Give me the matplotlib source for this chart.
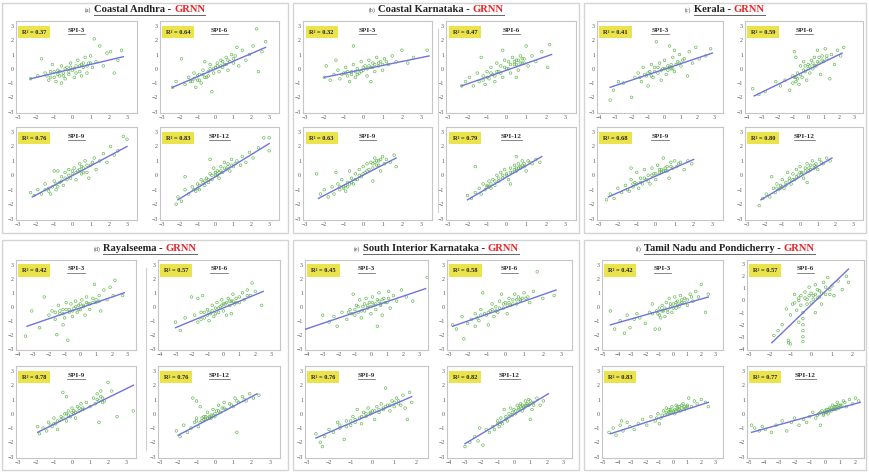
import matplotlib
matplotlib.use("Agg")
import matplotlib.pyplot as plt
from matplotlib.lines import Line2D
from matplotlib.patches import Rectangle

plt.rcParams["font.family"] = ["Liberation Serif", "DejaVu Serif"]

W, H = 869, 472

REGIONS = ["Coastal Andhra", "Coastal Karnataka", "Kerala",
           "Rayalseema", "South Interior Karnataka", "Tamil Nadu and Pondicherry"]
TAGS = ["(a)", "(b)", "(c)", "(d)", "(e)", "(f)"]
MODEL = "GRNN"
SPI_TITLES = [
    ["SPI-3", "SPI-6", "SPI-9", "SPI-12"],
    ["SPI-3", "SPI-6", "SPI-9", "SPI-12"],
    ["SPI-3", "SPI-6", "SPI-9", "SPI-12"],
    ["SPI-3", "SPI-6", "SPI-9", "SPI-12"],
    ["SPI-3", "SPI-6", "SPI-9", "SPI-12"],
    ["SPI-3", "SPI-6", "", "SPI-12"],
]
R2 = [
    [0.37, 0.64, 0.76, 0.83],
    [0.32, 0.47, 0.63, 0.79],
    [0.41, 0.59, 0.68, 0.80],
    [0.42, 0.57, 0.78, 0.76],
    [0.45, 0.58, 0.76, 0.82],
    [0.42, 0.57, 0.83, 0.77],
]
# regression line end points per subplot: (x0, y0, x1, y1)
FIT = [
    [(-2.3, -0.7, 2.8, 0.85), (-2.4, -1.3, 2.8, 1.5), (-2.2, -1.5, 3.0, 2.0), (-2.1, -1.7, 3.0, 2.2)],
    [(-2.0, -0.6, 3.4, 0.9), (-2.3, -1.2, 2.3, 1.0), (-2.3, -1.6, 1.7, 1.2), (-2.0, -1.7, 1.8, 1.3)],
    [(-3.3, -1.3, 2.9, 1.1), (-3.5, -1.9, 2.2, 1.1), (-2.5, -1.5, 2.0, 1.1), (-2.2, -1.7, 1.8, 1.2)],
    [(-3.4, -1.4, 2.8, 1.0), (-3.0, -1.5, 2.5, 1.1), (-1.9, -1.3, 3.4, 2.0), (-2.0, -1.5, 2.3, 1.4)],
    [(-4.3, -1.7, 3.4, 1.3), (-2.8, -1.4, 2.7, 1.2), (-2.6, -1.7, 1.8, 1.2), (-3.0, -2.1, 2.1, 1.4)],
    [(-4.5, -1.3, 2.5, 0.7), (-1.9, -3.5, 1.8, 2.6), (-4.5, -1.4, 2.5, 0.8), (-4.8, -1.3, 2.3, 0.8)],
]
# x tick range (first, last) per subplot
XT = [
    [(-3, 3), (-3, 3), (-3, 3), (-3, 3)],
    [(-3, 3), (-3, 3), (-3, 3), (-3, 3)],
    [(-4, 3), (-4, 3), (-3, 3), (-3, 3)],
    [(-4, 3), (-4, 3), (-3, 3), (-3, 3)],
    [(-4, 3), (-3, 3), (-3, 2), (-4, 3)],
    [(-5, 3), (-3, 2), (-5, 3), (-5, 2)],
]
# y tick range (first, last) per subplot
YT = [
    [(-3, 3)] * 4,
    [(-3, 3)] * 4,
    [(-3, 3)] * 4,
    [(-3, 3)] * 4,
    [(-3, 3)] * 4,
    [(-3, 3), (-4, 3), (-3, 3), (-3, 3)],
]

# observed vs predicted SPI values
andhra_spi3 = [(-2.3, -0.7), (-1.9, -0.5), (-1.7, 0.7), (-1.5, -0.3), (-1.3, -0.8), (-1.2, -0.2), (-1.1, 0.3), (-1.0, -0.6), (-0.9, -0.9), (-0.8, -0.1), (-0.7, -0.5), (-0.6, 0.2), (-0.5, -0.3), (-0.4, -0.7), (-0.3, 0.1), (-0.2, -0.4), (-0.1, 0.4), (0.0, -0.1), (0.1, -0.6), (0.2, 0.2), (0.3, 0.6), (0.4, -0.2), (0.5, 0.3), (0.6, 0.1), (0.7, 0.8), (0.8, -0.3), (0.9, 0.4), (1.0, 0.9), (1.1, 0.1), (1.2, 2.1), (1.3, 0.5), (1.5, 1.6), (1.7, 0.2), (1.9, 1.1), (2.1, 1.2), (2.3, -0.3), (2.5, 0.6), (2.7, 1.3), (-0.6, -1.0), (0.5, -0.5),
               (-1.4, -0.5), (-1.2, -0.6), (-1.0, -0.2), (-0.8, -0.4), (-0.7, -0.2), (-0.5, -0.5), (-0.4, 0.0), (-0.2, -0.2), (-0.1, 0.1), (0.1, 0.0), (0.2, -0.3), (0.4, 0.2), (0.6, 0.4), (0.8, 0.2), (1.0, 0.4)]
andhra_spi6 = [(-2.4, -1.3), (-2.2, -0.9), (-1.9, 0.7), (-1.7, -1.1), (-1.5, -0.6), (-1.3, -0.9), (-1.2, -0.3), (-1.0, -0.8), (-0.9, -0.4), (-0.8, -1.0), (-0.7, -0.1), (-0.5, -0.6), (-0.4, -0.2), (-0.3, 0.3), (-0.2, -1.6), (-0.1, -0.3), (0.0, 0.1), (0.1, 0.4), (0.2, -0.2), (0.3, 0.6), (0.4, 0.1), (0.5, 0.3), (0.6, 0.8), (0.7, -0.1), (0.8, 0.5), (0.9, 1.0), (1.0, 0.4), (1.1, 0.9), (1.3, 0.2), (1.5, 1.3), (1.7, 0.6), (1.9, 1.0), (2.1, 1.6), (2.3, 2.8), (2.4, -0.2), (2.6, 1.2), (2.8, 1.9), (-0.6, 0.5), (1.2, 1.5), (-1.1, -1.3),
               (-1.4, -0.9), (-1.2, -0.7), (-1.0, -0.5), (-0.9, -0.8), (-0.7, -0.4), (-0.6, -0.6), (-0.4, -0.5), (-0.3, 0.0), (-0.1, 0.0), (0.1, 0.2), (0.3, 0.2), (0.4, 0.5), (0.6, 0.3), (0.7, 0.6), (1.0, 0.7)]
andhra_spi9 = [(-2.3, -1.2), (-2.1, -1.4), (-1.9, -1.0), (-1.7, -1.3), (-1.5, -0.6), (-1.3, -0.9), (-1.2, -1.3), (-1.0, -0.4), (-0.9, -1.0), (-0.8, 0.3), (-0.7, -0.5), (-0.6, -0.1), (-0.5, -0.7), (-0.4, 0.2), (-0.3, -0.3), (-0.2, 0.4), (-0.1, -0.2), (0.0, 0.1), (0.1, 0.5), (0.2, -0.3), (0.3, 0.3), (0.4, 0.8), (0.5, 0.1), (0.6, 0.5), (0.7, 1.0), (0.8, 0.2), (1.0, 0.7), (1.2, 1.2), (1.3, 0.4), (1.5, 1.0), (1.7, 1.5), (1.9, 0.9), (2.1, 2.0), (2.3, 1.4), (2.5, 1.7), (2.8, 2.7), (3.0, 2.5), (-1.0, 0.3), (0.9, -0.2),
               (-1.5, -1.0), (-1.3, -1.1), (-1.1, -0.8), (-0.9, -0.6), (-0.8, -0.8), (-0.6, -0.4), (-0.4, -0.2), (-0.2, 0.0), (0.0, 0.3), (0.2, 0.2), (0.4, 0.4), (0.5, 0.6), (0.6, 0.2), (0.8, 0.7), (1.1, 0.9)]
andhra_spi12 = [(-2.2, -2.0), (-2.1, -1.5), (-1.9, -1.8), (-1.7, -1.0), (-1.5, -1.3), (-1.3, -0.8), (-1.1, -1.1), (-1.0, -0.6), (-0.9, -1.0), (-0.8, -0.3), (-0.6, -0.7), (-0.5, -0.2), (-0.4, -0.5), (-0.3, 0.1), (-0.2, -0.3), (-0.1, 0.5), (0.0, 0.0), (0.1, 0.3), (0.2, -0.2), (0.3, 0.6), (0.4, 0.2), (0.5, 0.9), (0.6, 0.4), (0.7, 0.8), (0.8, 0.3), (0.9, 1.1), (1.0, 0.6), (1.2, 1.0), (1.4, 0.7), (1.5, 1.3), (1.7, 0.9), (1.9, 1.6), (2.1, 1.2), (2.4, 1.9), (2.7, 2.6), (3.0, 2.6), (3.0, 1.7), (-1.7, -0.1), (-0.3, 1.1),
                (-1.2, -1.0), (-1.0, -0.9), (-0.9, -0.7), (-0.7, -0.5), (-0.6, -0.4), (-0.4, -0.3), (-0.2, 0.0), (0.0, 0.2), (0.1, 0.0), (0.2, 0.2), (0.3, 0.3), (0.5, 0.5), (0.7, 0.6), (0.9, 0.7), (1.1, 0.8)]

karnataka_spi3 = [(-2.0, -0.6), (-1.9, 0.2), (-1.7, -0.8), (-1.5, -0.4), (-1.3, -0.1), (-1.2, -0.7), (-1.0, -0.3), (-0.9, 0.1), (-0.8, -0.5), (-0.7, -0.9), (-0.6, -0.2), (-0.5, 0.3), (-0.4, -0.6), (-0.3, 0.0), (-0.2, -0.3), (-0.1, 0.5), (0.0, -0.1), (0.1, 0.2), (0.2, -0.5), (0.3, 0.6), (0.4, 0.1), (0.5, 0.4), (0.6, -0.2), (0.7, 0.8), (0.8, 0.2), (0.9, 0.5), (1.0, -0.1), (1.1, 0.7), (1.3, 0.3), (1.5, 0.9), (1.7, 0.5), (2.0, 1.3), (2.3, 0.4), (2.6, 0.8), (3.3, 1.3), (-0.5, 1.6), (0.4, -0.9), (-1.4, 0.6),
                  (-1.1, -0.4), (-0.9, -0.3), (-0.8, -0.2), (-0.6, -0.4), (-0.4, -0.2), (-0.3, -0.4), (-0.1, -0.2), (0.0, 0.1), (0.2, 0.0), (0.3, 0.2), (0.5, 0.1), (0.6, 0.3), (0.8, 0.4), (1.0, 0.3), (1.2, 0.5)]
karnataka_spi6 = [(-2.3, -1.2), (-2.1, -0.9), (-1.9, -0.6), (-1.7, -1.2), (-1.5, -0.3), (-1.4, -0.9), (-1.3, 0.8), (-1.2, -0.5), (-1.1, -1.1), (-1.0, -0.2), (-0.9, -0.7), (-0.8, 0.1), (-0.7, -0.4), (-0.6, -0.9), (-0.5, 0.4), (-0.4, -0.2), (-0.3, 0.2), (-0.2, -0.6), (-0.1, 0.6), (0.0, 0.0), (0.1, 0.5), (0.2, -0.3), (0.3, 0.8), (0.4, 0.3), (0.5, 0.6), (0.6, -0.1), (0.7, 0.9), (0.8, 0.4), (0.9, 0.7), (1.0, 1.6), (1.1, 0.2), (1.3, 0.9), (1.5, 0.5), (1.8, 1.2), (2.1, 0.1), (2.2, 1.7), (-0.2, 1.3), (0.5, -0.6),
                  (-1.2, -0.8), (-1.0, -0.6), (-0.8, -0.3), (-0.6, -0.5), (-0.5, -0.2), (-0.3, -0.3), (-0.1, 0.1), (0.1, 0.0), (0.2, 0.3), (0.4, 0.5), (0.5, 0.3), (0.6, 0.6), (0.7, 0.4), (0.8, 0.7), (0.9, 0.4)]
karnataka_spi9 = [(-2.4, 0.1), (-2.2, -1.3), (-2.0, -1.0), (-1.8, -1.5), (-1.6, -0.8), (-1.5, -1.3), (-1.3, -0.6), (-1.2, -1.0), (-1.1, -0.3), (-1.0, -0.8), (-0.9, -1.1), (-0.8, -0.5), (-0.7, 0.3), (-0.6, -0.2), (-0.5, -0.6), (-0.4, 0.1), (-0.3, -0.3), (-0.2, 0.4), (-0.1, -0.1), (0.0, 0.6), (0.1, 0.2), (0.2, 0.8), (0.3, 0.4), (0.4, 0.9), (0.5, 0.5), (0.6, 1.2), (0.7, 0.7), (0.8, 1.0), (0.9, 0.3), (1.0, 1.3), (1.1, 0.8), (1.2, 1.1), (1.4, 0.9), (1.6, 1.4), (1.7, 0.6), (-1.4, 0.2), (0.5, -0.4),
                  (-1.2, -0.8), (-1.0, -0.9), (-0.9, -0.7), (-0.8, -0.8), (-0.7, -0.6), (-0.6, -0.5), (-0.4, -0.3), (-0.2, 0.0), (0.0, 0.1), (0.2, 0.3), (0.5, 0.8), (0.6, 0.9), (0.7, 1.0), (0.8, 0.7), (0.9, 1.1)]
karnataka_spi12 = [(-2.0, -1.4), (-1.8, -1.6), (-1.6, -1.2), (-1.4, -0.9), (-1.3, -1.3), (-1.2, -0.6), (-1.1, -1.0), (-1.0, -0.8), (-0.9, -0.4), (-0.8, -0.9), (-0.7, -0.3), (-0.6, -0.7), (-0.5, 0.0), (-0.4, -0.4), (-0.3, 0.2), (-0.2, -0.2), (-0.1, 0.4), (0.0, 0.1), (0.1, -0.3), (0.2, 0.5), (0.3, 0.2), (0.4, 0.7), (0.5, 0.3), (0.6, 0.8), (0.7, 0.5), (0.8, 1.0), (0.9, 0.6), (1.0, 0.3), (1.1, 1.0), (1.3, 0.8), (1.5, 1.1), (1.7, 0.9), (-1.6, 0.6), (0.5, 1.3), (0.2, -0.6),
                   (-1.0, -0.7), (-0.9, -0.8), (-0.8, -0.6), (-0.6, -0.4), (-0.4, -0.2), (-0.2, 0.0), (0.0, 0.0), (0.2, 0.2), (0.4, 0.4), (0.5, 0.5), (0.6, 0.5), (0.7, 0.6), (0.8, 0.7), (0.9, 0.8), (1.2, 0.9)]

kerala_spi3 = [(-3.3, -2.2), (-3.1, -1.5), (-2.8, -0.9), (-2.5, -1.0), (-2.0, -2.0), (-1.8, -0.6), (-1.6, -0.3), (-1.4, -0.9), (-1.3, 0.1), (-1.1, -0.5), (-1.0, -1.2), (-0.9, -0.2), (-0.8, 0.3), (-0.7, -0.6), (-0.6, 0.1), (-0.5, 1.9), (-0.4, -0.3), (-0.3, 0.4), (-0.2, -0.8), (-0.1, 0.0), (0.0, 0.6), (0.1, -0.4), (0.2, 0.2), (0.3, 1.6), (0.4, 0.0), (0.5, 0.8), (0.6, -0.2), (0.8, 0.5), (0.9, 1.0), (1.0, 0.2), (1.2, 0.7), (1.4, -0.5), (1.5, 1.2), (1.7, 0.4), (1.9, 1.5), (2.1, 0.7), (2.5, 0.9), (2.8, 1.4), (0.6, 1.3),
               (-1.5, -0.6), (-1.2, -0.4), (-1.0, -0.3), (-0.8, -0.5), (-0.6, -0.2), (-0.4, 0.1), (-0.2, -0.1), (0.0, 0.0), (0.2, -0.1), (0.3, 0.1), (0.4, 0.3), (0.5, 0.0), (0.7, 0.3), (0.9, 0.4), (1.1, 0.6)]
kerala_spi6 = [(-3.6, -1.4), (-3.2, -1.8), (-2.8, -1.6), (-2.1, -0.9), (-1.5, -0.8), (-1.2, -1.5), (-1.0, -0.5), (-0.9, 1.2), (-0.8, -0.9), (-0.7, -0.3), (-0.6, -1.1), (-0.5, 0.2), (-0.4, -0.6), (-0.3, 0.5), (-0.2, -0.2), (-0.1, -0.8), (0.0, 0.3), (0.1, -0.3), (0.2, 0.6), (0.3, 0.0), (0.4, 0.8), (0.5, 0.2), (0.6, 1.3), (0.7, 0.4), (0.8, -0.4), (0.9, 0.9), (1.0, 0.5), (1.1, 1.4), (1.2, 0.7), (1.4, -0.7), (1.5, 1.0), (1.7, 0.3), (1.9, 1.3), (2.1, 0.9), (2.3, 1.5), (-0.8, 0.8), (-1.8, -1.2),
               (-1.0, -1.0), (-0.9, -0.6), (-0.8, -0.6), (-0.7, -0.7), (-0.5, -0.4), (-0.3, -0.1), (-0.2, 0.2), (0.0, 0.0), (0.1, 0.2), (0.3, 0.4), (0.4, 0.2), (0.6, 0.5), (0.7, 0.8), (0.9, 0.6), (1.2, 0.9)]
kerala_spi9 = [(-2.6, -1.7), (-2.4, -1.3), (-2.2, -1.6), (-2.0, -0.9), (-1.8, -1.2), (-1.6, -0.7), (-1.4, -1.1), (-1.3, -0.3), (-1.2, -0.8), (-1.1, -0.5), (-1.0, 0.2), (-0.9, -0.9), (-0.8, -0.2), (-0.7, -0.6), (-0.6, 0.4), (-0.5, -0.3), (-0.4, 0.0), (-0.3, -0.6), (-0.2, 0.5), (-0.1, 0.1), (0.0, -0.3), (0.1, 0.7), (0.2, 0.2), (0.3, 0.4), (0.4, 1.2), (0.5, 0.3), (0.6, 0.6), (0.7, -0.2), (0.8, 0.9), (0.9, 0.5), (1.0, 1.0), (1.1, 0.6), (1.3, 0.9), (1.5, 0.4), (1.7, 1.0), (1.9, 0.8), (-1.3, 0.5),
               (-1.5, -1.0), (-1.2, -0.6), (-1.0, -0.6), (-0.8, -0.5), (-0.6, -0.2), (-0.4, -0.4), (-0.2, 0.0), (0.0, 0.1), (0.2, 0.4), (0.3, 0.2), (0.4, 0.3), (0.5, 0.5), (0.6, 0.3), (0.8, 0.6), (1.2, 0.8)]
kerala_spi12 = [(-2.3, -2.1), (-2.1, -1.6), (-1.9, -1.3), (-1.7, -1.5), (-1.5, -0.9), (-1.4, -1.2), (-1.3, -0.6), (-1.2, -1.0), (-1.1, -0.7), (-1.0, -0.3), (-0.9, -0.9), (-0.8, -0.5), (-0.7, 0.2), (-0.6, -0.2), (-0.5, -0.6), (-0.4, 0.1), (-0.3, -0.3), (-0.2, 0.4), (-0.1, 0.0), (0.0, 0.6), (0.1, 0.2), (0.2, -0.2), (0.3, 0.5), (0.4, 0.8), (0.5, 0.3), (0.6, 0.7), (0.7, 1.0), (0.8, 0.5), (0.9, 0.8), (1.0, 0.4), (1.1, 1.1), (1.3, 0.8), (1.5, 1.2), (1.7, 1.0), (-1.6, -0.1), (0.4, -0.5),
                (-1.3, -0.9), (-1.1, -0.9), (-1.0, -0.8), (-0.8, -0.7), (-0.6, -0.4), (-0.4, -0.3), (-0.2, -0.1), (0.0, 0.2), (0.1, 0.1), (0.3, 0.3), (0.5, 0.5), (0.6, 0.4), (0.8, 0.7), (0.9, 0.6), (1.2, 0.9)]

rayalseema_spi3 = [(-3.5, -2.1), (-3.1, -0.3), (-2.6, -1.5), (-2.3, 0.7), (-2.0, -0.6), (-1.8, -0.3), (-1.6, -0.9), (-1.5, -2.0), (-1.4, 0.1), (-1.3, -0.5), (-1.1, -0.2), (-1.0, -0.8), (-0.9, 0.3), (-0.8, -2.4), (-0.7, -0.4), (-0.6, 0.2), (-0.5, -0.7), (-0.4, -0.1), (-0.3, 0.4), (-0.2, -0.4), (-0.1, 0.1), (0.0, -0.2), (0.1, 0.5), (0.2, 0.0), (0.3, -0.6), (0.4, 0.7), (0.5, 0.2), (0.6, -0.2), (0.8, 0.6), (0.9, 1.6), (1.0, 0.3), (1.2, 0.8), (1.3, -0.3), (1.5, 1.2), (1.7, 0.5), (1.9, 1.4), (2.1, 0.8), (2.2, 1.9), (2.7, 0.8), (-1.1, -1.3),
                   (-1.6, -0.4), (-1.3, -0.3), (-1.1, -0.5), (-0.9, -0.2), (-0.7, -0.2), (-0.5, -0.3), (-0.3, 0.0), (-0.1, -0.2), (0.0, 0.2), (0.2, 0.1), (0.4, 0.3), (0.6, 0.2), (0.8, 0.3), (1.0, 0.5), (1.2, 0.4)]
rayalseema_spi6 = [(-3.0, -1.1), (-2.7, -1.7), (-2.4, -0.8), (-2.0, 0.7), (-1.8, -0.6), (-1.6, -1.1), (-1.4, -0.4), (-1.3, 0.8), (-1.2, -0.8), (-1.0, -0.2), (-0.9, -1.0), (-0.8, -0.5), (-0.7, 0.1), (-0.6, -0.7), (-0.5, -0.1), (-0.4, 0.3), (-0.3, -0.4), (-0.2, 0.0), (-0.1, 0.5), (0.0, -0.3), (0.1, 0.2), (0.2, -0.6), (0.3, 0.6), (0.4, 0.1), (0.5, 0.4), (0.6, 0.9), (0.7, 0.2), (0.8, 0.6), (1.0, 0.3), (1.2, 1.0), (1.3, 0.5), (1.5, 1.2), (1.7, 0.8), (1.8, 1.7), (2.0, 1.1), (2.4, 0.1), (-1.6, 0.6), (0.5, -0.5),
                   (-1.4, -0.9), (-1.2, -0.4), (-1.0, -0.6), (-0.9, -0.4), (-0.7, -0.3), (-0.5, -0.5), (-0.3, -0.1), (-0.1, 0.1), (0.0, 0.2), (0.2, 0.3), (0.4, 0.4), (0.6, 0.4), (0.8, 0.3), (1.0, 0.7), (1.5, 0.8)]
rayalseema_spi9 = [(-1.9, -0.9), (-1.8, -1.4), (-1.6, -1.0), (-1.4, -1.2), (-1.3, -0.6), (-1.1, -0.9), (-1.0, -0.3), (-0.9, -0.7), (-0.8, -1.1), (-0.6, -0.4), (-0.5, 1.5), (-0.4, 0.0), (-0.3, -0.5), (-0.2, 0.2), (-0.1, -0.2), (0.0, 0.4), (0.1, 0.0), (0.2, -0.3), (0.3, 0.5), (0.4, 0.2), (0.5, 0.7), (0.6, 0.3), (0.8, 0.8), (1.0, 0.5), (1.2, 1.1), (1.3, 0.7), (1.4, 1.4), (1.5, 0.9), (1.6, 1.6), (1.7, 1.1), (1.8, 0.9), (2.0, 2.2), (2.2, 1.6), (2.5, -0.2), (3.4, 0.2), (-0.3, 1.2), (1.5, -0.6),
                   (-1.2, -0.8), (-1.0, -0.7), (-0.8, -0.5), (-0.6, -0.2), (-0.5, -0.3), (-0.3, 0.0), (-0.2, -0.1), (0.0, 0.1), (0.1, 0.2), (0.2, 0.1), (0.4, 0.4), (0.6, 0.4), (1.4, 1.0), (1.6, 1.2), (1.7, 0.8)]
rayalseema_spi12 = [(-2.1, -1.2), (-1.9, -1.6), (-1.7, -0.8), (-1.5, -1.3), (-1.3, -1.0), (-1.2, 1.1), (-1.1, -0.6), (-1.0, -0.3), (-0.9, -0.9), (-0.8, 0.5), (-0.7, -0.5), (-0.6, -0.2), (-0.5, -0.4), (-0.4, 0.1), (-0.3, -0.3), (-0.2, -0.1), (-0.1, 0.3), (0.0, -0.2), (0.1, 0.2), (0.2, 0.6), (0.3, 0.1), (0.4, 0.4), (0.5, 0.8), (0.6, 0.3), (0.8, 0.7), (1.0, 0.5), (1.1, 1.1), (1.2, -1.3), (1.3, 0.8), (1.5, 1.2), (1.7, 0.9), (1.9, 1.4), (2.1, 1.1), (2.4, 1.3), (-1.0, 0.9),
                    (-1.0, -0.5), (-0.8, -0.6), (-0.7, -0.3), (-0.6, -0.4), (-0.5, -0.2), (-0.4, -0.3), (-0.3, -0.2), (-0.2, -0.3), (-0.1, -0.1), (0.0, 0.0), (0.2, 0.2), (0.5, 0.4), (0.9, 0.6), (1.2, 0.9), (1.6, 1.0)]

interior_spi3 = [(-4.3, -2.9), (-3.0, -0.6), (-2.6, -1.1), (-2.3, -0.7), (-2.1, -1.4), (-1.8, -0.4), (-1.5, -0.9), (-1.3, -0.2), (-1.1, 0.9), (-1.0, -0.6), (-0.9, 0.1), (-0.8, -0.4), (-0.7, 0.5), (-0.6, -0.8), (-0.5, 0.0), (-0.4, -0.3), (-0.3, 0.6), (-0.2, -0.1), (-0.1, 0.3), (0.0, -0.5), (0.1, 0.7), (0.2, 0.1), (0.3, -0.2), (0.4, 0.5), (0.5, 1.0), (0.6, 0.2), (0.7, -0.6), (0.8, 0.6), (1.0, 0.3), (1.1, 1.1), (1.2, -0.1), (1.4, 0.8), (1.6, 0.4), (1.9, 1.2), (2.2, 0.7), (2.6, 0.4), (3.5, 2.1), (0.4, -1.4),
                 (-1.4, -0.4), (-1.2, -0.5), (-1.0, -0.2), (-0.8, 0.0), (-0.6, -0.3), (-0.4, 0.2), (-0.2, 0.1), (0.0, 0.0), (0.1, 0.3), (0.3, 0.2), (0.5, 0.4), (0.6, 0.1), (0.7, 0.5), (0.9, 0.3), (1.1, 0.6)]
interior_spi6 = [(-2.8, -1.3), (-2.6, -1.6), (-2.3, -0.7), (-2.2, -2.3), (-2.0, -1.2), (-1.8, -0.9), (-1.6, -0.5), (-1.4, -1.0), (-1.3, -0.2), (-1.2, 1.0), (-1.0, -0.6), (-0.9, -1.3), (-0.8, -0.3), (-0.7, 0.2), (-0.6, -0.7), (-0.5, 0.0), (-0.4, -0.4), (-0.3, 0.4), (-0.2, 0.9), (-0.1, -0.1), (0.0, 0.3), (0.1, -0.5), (0.2, 0.6), (0.3, 0.1), (0.4, 0.5), (0.5, 0.9), (0.6, 0.2), (0.7, 0.7), (0.8, 0.4), (1.0, 1.0), (1.1, 0.6), (1.3, 0.3), (1.5, 1.1), (1.7, 2.5), (2.0, 0.6), (2.6, 0.8), (-1.6, -1.4),
                 (-1.5, -0.8), (-1.3, -0.6), (-1.1, -0.5), (-0.9, -0.4), (-0.7, -0.2), (-0.5, -0.3), (-0.3, -0.1), (-0.1, 0.2), (0.1, 0.1), (0.2, 0.3), (0.4, 0.2), (0.6, 0.5), (0.8, 0.5), (0.9, 0.6), (1.2, 0.7)]
interior_spi9 = [(-2.6, -1.4), (-2.4, -2.0), (-2.2, -1.6), (-2.3, -2.3), (-2.0, -1.1), (-1.8, -1.3), (-1.6, -0.6), (-1.5, -1.0), (-1.3, -1.8), (-1.2, -0.5), (-1.0, -0.8), (-0.9, -0.2), (-0.8, -0.6), (-0.7, 0.3), (-0.6, -0.3), (-0.5, -0.7), (-0.4, 0.1), (-0.3, -0.2), (-0.2, 0.4), (-0.1, 0.0), (0.0, 0.2), (0.1, -0.4), (0.2, 0.5), (0.3, 0.1), (0.4, 0.7), (0.5, 0.3), (0.6, 1.8), (0.7, 0.6), (0.8, 0.2), (0.9, 0.9), (1.0, 0.5), (1.1, 1.1), (1.2, 0.7), (1.4, 1.3), (1.5, 0.4), (1.7, 1.5), (1.8, 0.8), (1.6, -0.4),
                 (-1.5, -0.8), (-1.2, -0.9), (-1.0, -0.5), (-0.8, -0.4), (-0.5, -0.2), (-0.3, 0.0), (-0.1, 0.1), (0.1, 0.2), (0.3, 0.3), (0.5, 0.4), (0.6, 0.5), (0.8, 0.6), (1.0, 0.8), (1.2, 0.9), (1.3, 0.6)]
interior_spi12 = [(-3.0, -2.3), (-2.7, -2.0), (-2.4, -1.6), (-2.2, -1.9), (-2.1, -1.0), (-1.9, -2.2), (-1.7, -1.1), (-1.5, -1.3), (-1.3, -0.9), (-1.2, -1.1), (-1.0, -0.5), (-0.9, -0.9), (-0.8, -0.3), (-0.7, -0.7), (-0.6, 0.3), (-0.5, -0.2), (-0.4, -0.5), (-0.3, 0.0), (-0.2, 0.4), (-0.1, -0.1), (0.0, 0.3), (0.1, 0.0), (0.2, 0.6), (0.3, 0.3), (0.4, 0.7), (0.5, 0.2), (0.6, 0.5), (0.7, 0.9), (0.8, 0.6), (0.9, 1.0), (1.0, 0.7), (1.1, 0.3), (1.2, 0.8), (1.4, 1.1), (1.6, 0.6), (1.8, 0.9), (1.0, -0.4),
                  (-1.0, -0.7), (-0.8, -0.6), (-0.5, -0.4), (-0.3, -0.2), (-0.1, 0.1), (0.1, 0.2), (0.3, 0.4), (0.4, 0.5), (0.5, 0.6), (0.6, 0.4), (0.7, 0.6), (0.8, 0.7), (0.9, 0.6), (1.0, 0.9), (1.2, 0.6)]

tamil_spi3 = [(-4.5, -0.3), (-4.2, -1.6), (-3.8, -1.0), (-3.5, -1.9), (-3.3, -0.6), (-3.1, -1.5), (-2.8, -0.9), (-2.6, -0.5), (-2.4, -0.8), (-2.0, -1.2), (-1.7, -0.4), (-1.5, 0.2), (-1.3, -1.6), (-1.1, -0.5), (-1.0, -0.1), (-0.9, -0.8), (-0.8, 0.1), (-0.7, -0.3), (-0.6, -0.7), (-0.5, 0.3), (-0.4, -0.2), (-0.3, 0.6), (-0.2, 0.0), (-0.1, -0.4), (0.0, 0.2), (0.1, 0.7), (0.2, -0.1), (0.3, 0.4), (0.4, 0.0), (0.5, 0.8), (0.6, 0.3), (0.8, 0.6), (1.0, 0.1), (1.2, 0.9), (1.4, 0.4), (1.6, 1.1), (1.8, 0.7), (2.0, 1.6), (2.3, -0.4), (2.5, 0.9), (-1.0, -1.6),
              (-1.5, -0.5), (-1.2, -0.3), (-1.0, -0.6), (-0.8, -0.3), (-0.6, -0.1), (-0.4, -0.4), (-0.2, 0.2), (0.0, -0.1), (0.2, 0.3), (0.3, 0.1), (0.5, 0.2), (0.6, 0.5), (0.8, 0.3), (1.0, 0.5), (1.3, 0.7)]
tamil_spi6 = [(-1.8, -2.9), (-1.6, -2.5), (-1.4, -2.0), (-1.2, -0.7), (-1.1, -3.3), (-1.0, -1.2), (-0.9, -0.3), (-0.8, 0.5), (-0.7, -0.8), (-0.6, 0.2), (-0.5, -0.4), (-0.4, -1.5), (-0.4, -2.0), (-0.4, -2.5), (-0.4, -3.0), (-0.4, -3.4), (-0.4, -1.0), (-0.3, 0.7), (-0.2, 0.1), (-0.1, 1.1), (0.0, -0.2), (0.1, 0.4), (0.2, 1.3), (0.3, 0.2), (0.4, 0.8), (0.5, -0.3), (0.6, 1.5), (0.7, 0.5), (0.8, 1.9), (0.9, 0.9), (1.0, 1.2), (1.1, 0.4), (1.3, 1.6), (1.5, 0.9), (1.7, 2.0), (1.8, 1.5), (-0.6, -1.8), (0.2, -1.0), (-1.1, -3.5),
              (-0.8, -0.2), (-0.6, 0.0), (-0.5, 0.4), (-0.3, 0.2), (-0.2, -0.3), (-0.1, 0.4), (0.0, 0.6), (0.1, 0.1), (0.2, 0.5), (0.3, 0.9), (0.4, 0.3), (0.5, 0.6), (0.7, 1.1), (0.9, 0.5), (-1.0, -3.6)]
tamil_spi9 = [(-4.6, -1.3), (-4.3, -1.0), (-4.1, -1.5), (-3.8, -0.8), (-3.6, -1.2), (-3.3, -0.6), (-3.1, -0.9), (-2.8, -1.1), (-2.5, -0.7), (-2.2, -0.4), (-1.9, -0.8), (-1.6, -0.2), (-1.3, -0.5), (-1.1, 0.0), (-1.0, -0.7), (-0.9, -0.3), (-0.7, 0.2), (-0.6, -0.1), (-0.5, 0.4), (-0.4, 0.0), (-0.3, 0.3), (-0.2, 0.1), (-0.1, 0.5), (0.0, 0.2), (0.1, 0.0), (0.2, 0.6), (0.3, 0.3), (0.4, 0.5), (0.6, 0.4), (0.7, 0.7), (0.8, 0.3), (1.0, 0.6), (1.1, 1.1), (1.3, 0.5), (1.5, 0.9), (1.7, 0.7), (2.0, 1.0), (2.3, 0.8), (2.5, 0.5), (-3.7, -0.5),
              (-1.2, -0.3), (-0.8, -0.1), (-0.5, 0.1), (-0.3, 0.1), (-0.2, 0.3), (0.0, 0.1), (0.1, 0.3), (0.2, 0.2), (0.3, 0.5), (0.4, 0.3), (0.5, 0.2), (0.6, 0.6), (0.8, 0.5), (0.9, 0.4), (1.0, 0.5)]
tamil_spi12 = [(-4.8, -0.8), (-4.6, -1.0), (-4.3, -1.2), (-4.1, -0.9), (-3.9, -1.1), (-3.5, -1.3), (-3.2, -0.8), (-2.8, -0.5), (-2.5, -1.2), (-2.2, -0.6), (-2.0, -0.3), (-1.7, -0.8), (-1.4, -0.4), (-1.2, -0.6), (-1.0, -0.2), (-0.8, 0.1), (-0.6, -0.3), (-0.4, 0.0), (-0.2, 0.2), (-0.1, -0.1), (0.0, 0.1), (0.1, 0.3), (0.2, 0.0), (0.3, 0.4), (0.4, 0.2), (0.5, 0.6), (0.6, 0.3), (0.7, 0.5), (0.8, 0.8), (0.9, 0.4), (1.0, 0.6), (1.2, 0.9), (1.4, 0.5), (1.6, 1.0), (1.8, 0.7), (2.0, 1.1), (2.2, 0.9), (-0.3, -0.8),
               (-0.5, -0.1), (-0.3, 0.1), (-0.1, 0.0), (0.0, 0.2), (0.1, 0.1), (0.2, 0.3), (0.3, 0.2), (0.4, 0.4), (0.5, 0.3), (0.6, 0.5), (0.7, 0.3), (0.8, 0.5), (0.9, 0.6), (1.1, 0.6), (1.3, 0.8)]

POINTS = [
    [andhra_spi3, andhra_spi6, andhra_spi9, andhra_spi12],
    [karnataka_spi3, karnataka_spi6, karnataka_spi9, karnataka_spi12],
    [kerala_spi3, kerala_spi6, kerala_spi9, kerala_spi12],
    [rayalseema_spi3, rayalseema_spi6, rayalseema_spi9, rayalseema_spi12],
    [interior_spi3, interior_spi6, interior_spi9, interior_spi12],
    [tamil_spi3, tamil_spi6, tamil_spi9, tamil_spi12],
]

# layout in pixels (x0, x1) / (y0, y1), measured from the top-left corner
PANEL_X = [(2, 288), (293, 579), (584, 866)]
PANEL_Y = [(3, 233), (240, 470)]
AX_X = [
    [(16, 137), (160, 279)], [(303, 432), (446, 576)], [(597, 723), (745, 863)],
    [(16, 136), (158, 280)], [(305, 428), (447, 572)], [(602, 723), (747, 864)],
]
AX_Y = [[(21, 113), (127, 220)], [(260, 350), (366, 458)]]
TITLE_Y = [12, 251]
DIVIDERS = {1: 438, 3: 146}

GREEN = "#4fae3c"
LINE = "#7272dd"
YELLOW = "#ebe34c"
BORDER = "#d4d4d4"

fig = plt.figure(figsize=(W / 100, H / 100), dpi=100)
fig.patch.set_facecolor("white")
renderer = fig.canvas.get_renderer()


def hline(x0, x1, y, color="#555555", lw=0.6):
    # y in display pixels (origin bottom-left)
    fig.add_artist(Line2D([x0 / W, x1 / W], [y / H, y / H], transform=fig.transFigure,
                          color=color, lw=lw))


def panel_title(cx, ty, tag, name):
    parts = [(tag, 4.2, "normal", "#444444"),
             (name + " - ", 7.6, "bold", "#222222"),
             (MODEL, 7.6, "bold", "#e8252a")]
    texts, widths = [], []
    for s, size, weight, color in parts:
        t = fig.text(0, 1 - ty / H, s, fontsize=size, fontweight=weight, color=color,
                     va="baseline", ha="left")
        texts.append(t)
        widths.append(t.get_window_extent(renderer).width)
    gap = 3
    total = sum(widths) + gap
    x = cx - total / 2
    starts = []
    for i, t in enumerate(texts):
        starts.append(x)
        t.set_x(x / W)
        x += widths[i] + (gap if i == 0 else 0)
    hline(starts[1], x, H - ty - 2.5, color="#666666", lw=0.7)


def draw_subplot(ax, pts, fit, xt, yt, r2, title):
    xs = [p[0] for p in pts]
    ys = [p[1] for p in pts]
    ax.scatter(xs, ys, marker="o", s=3.5, linewidths=0.45, facecolors="none",
               edgecolors=GREEN, alpha=0.9, zorder=2)
    ax.plot([fit[0], fit[2]], [fit[1], fit[3]], color=LINE, lw=1.0, zorder=3)
    ax.set_xticks(range(xt[0], xt[1] + 1))
    ax.set_yticks(range(yt[0], yt[1] + 1))
    ax.set_xlim(xt[0] - 0.1, xt[1] + 0.55)
    ax.set_ylim(yt[0] - 0.1, yt[1] + 0.35)
    ax.tick_params(length=0, pad=1.5, labelsize=4.2, labelcolor="#555555")
    for sp in ax.spines.values():
        sp.set_color("#c6c6c6")
        sp.set_linewidth(0.8)
    ax.text(0.05, 0.88, f"R\u00b2 = {r2:.2f}", transform=ax.transAxes, fontsize=4.6,
            fontweight="bold", color="#222222", va="center", ha="left",
            bbox=dict(boxstyle="square,pad=0.6", fc=YELLOW, ec="none"))
    if title:
        t = ax.text(0.5, 0.885, title, transform=ax.transAxes, fontsize=5.2,
                    fontweight="bold", color="#333333", va="baseline", ha="center")
        bb = t.get_window_extent(renderer)
        hline(bb.x0, bb.x1, bb.y0 - 1.2, color="#555555", lw=0.5)


for i, region in enumerate(REGIONS):
    row, col = divmod(i, 3)
    px0, px1 = PANEL_X[col]
    py0, py1 = PANEL_Y[row]
    fig.add_artist(Rectangle((px0 / W, 1 - py1 / H), (px1 - px0) / W, (py1 - py0) / H,
                             transform=fig.transFigure, fill=False, ec=BORDER, lw=1.0))
    panel_title((px0 + px1) / 2, TITLE_Y[row], TAGS[i], region)
    if i in DIVIDERS:
        dx = DIVIDERS[i]
        fig.add_artist(Line2D([dx / W, dx / W], [1 - (AX_Y[row][1][1] - 8) / H, 1 - (AX_Y[row][0][0] + 8) / H],
                              transform=fig.transFigure, color="#d0d0d0", lw=0.8))
    for k in range(4):
        r, c = divmod(k, 2)
        ax0, ax1 = AX_X[i][c]
        ay0, ay1 = AX_Y[row][r]
        ax = fig.add_axes([ax0 / W, 1 - ay1 / H, (ax1 - ax0) / W, (ay1 - ay0) / H])
        draw_subplot(ax, POINTS[i][k], FIT[i][k], XT[i][k], YT[i][k], R2[i][k], SPI_TITLES[i][k])

fig.savefig("out.png", dpi=100)
